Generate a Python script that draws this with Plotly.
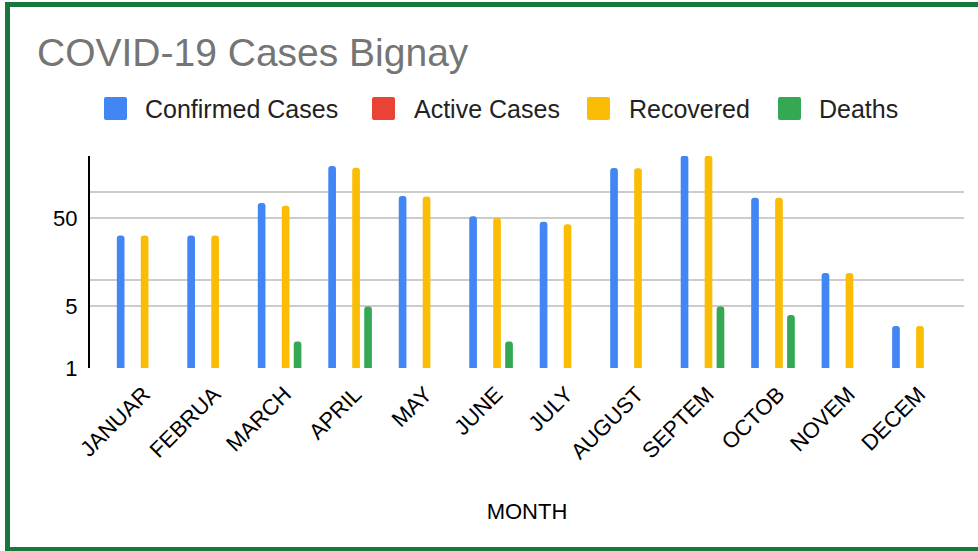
import plotly.graph_objects as go

# ---- data ----
months = ["JANUAR", "FEBRUA", "MARCH", "APRIL", "MAY", "JUNE", "JULY",
          "AUGUST", "SEPTEM", "OCTOB", "NOVEM", "DECEM"]
confirmed = [32, 32, 75, 198, 90, 53, 46, 187, 259, 86, 12, 3]
active = [0, 0, 0, 0, 0, 0, 0, 0, 0, 0, 0, 0]
recovered = [32, 32, 70, 189, 89, 51, 43, 186, 259, 86, 12, 3]
deaths = [1, 0, 2, 5, 1, 2, 1, 1, 5, 4, 0, 0]
series_names = ["Confirmed Cases", "Active Cases", "Recovered", "Deaths"]
series_colors = ["#4285F4", "#EA4335", "#FBBC04", "#34A853"]
y_tickvals = [1, 5, 10, 50, 100]
y_ticktext = ["1", "5", "", "50", ""]

# ---- layout geometry (pixels) ----
W, H = 978, 551
L, R, T, B = 90, 964, 156, 368
PW, PH = R - L, B - T


def px(x):
    return (x - L) / PW


def py(y):
    return (B - y) / PH


FONT = "Liberation Sans, Arial, sans-serif"

fig = go.Figure()
for name, vals, col in zip(series_names, [confirmed, active, recovered, deaths], series_colors):
    fig.add_trace(go.Bar(name=name, x=months, y=vals, marker_color=col,
                         marker_line_width=0, showlegend=False))

shapes = []
annotations = []
# manual legend
leg_items = [(104, 143), (372, 412), (587, 627), (778, 817)]
for (sx, tx), name, col in zip(leg_items, series_names, series_colors):
    x0, x1 = px(sx), px(sx + 23)
    y0, y1 = py(120), py(97)
    rx, ry = 2 / PW, 2 / PH
    path = (f"M{x0+rx},{y1} L{x1-rx},{y1} Q{x1},{y1} {x1},{y1-ry} "
            f"L{x1},{y0+ry} Q{x1},{y0} {x1-rx},{y0} L{x0+rx},{y0} "
            f"Q{x0},{y0} {x0},{y0+ry} L{x0},{y1-ry} Q{x0},{y1} {x0+rx},{y1} Z")
    shapes.append(dict(type="path", xref="paper", yref="paper", path=path,
                       fillcolor=col, line=dict(width=0), layer="above"))
    annotations.append(dict(xref="paper", yref="paper", x=px(tx), y=py(109),
                            xanchor="left", yanchor="middle", showarrow=False,
                            text=name, font=dict(family=FONT, size=25, color="#222222")))

# outer green frame
shapes.append(dict(type="rect", xref="paper", yref="paper",
                   x0=px(7.5), x1=px(1000), y0=py(549.5), y1=py(4.5),
                   line=dict(color="#17773D", width=5), fillcolor="rgba(0,0,0,0)",
                   layer="above"))

fig.update_layout(
    width=W, height=H,
    margin=dict(l=L, r=W - R, t=T, b=H - B, autoexpand=False),
    paper_bgcolor="white", plot_bgcolor="white",
    barmode="group", bargap=0.32, bargroupgap=0.36, barcornerradius="50%",
    showlegend=False,
    title=dict(text="COVID-19 Cases Bignay", xref="container", yref="container",
               x=37 / W, xanchor="left", y=1 - 52 / H, yanchor="middle",
               font=dict(family=FONT, size=39, color="#757575")),
    xaxis=dict(range=[-0.69, 11.71], showgrid=False, showline=False, zeroline=False,
               tickangle=-45, ticks="", ticklabelstandoff=8, ticklabelshift=5,
               tickfont=dict(family=FONT, size=22, color="#000000"),
               title=dict(text="MONTH", font=dict(family=FONT, size=22, color="#000000"),
                          standoff=40)),
    yaxis=dict(type="log", range=[0, 2.409], tickvals=y_tickvals, ticktext=y_ticktext,
               showgrid=True, gridcolor="#cccccc", gridwidth=1.5, zeroline=False,
               showline=True, linecolor="#000000", linewidth=2, ticks="",
               ticklabelstandoff=6,
               tickfont=dict(family=FONT, size=22, color="#000000")),
    shapes=shapes, annotations=annotations,
)

fig.write_html("out.html", config={"displayModeBar": False},
               post_script="document.body.style.margin='0';")
